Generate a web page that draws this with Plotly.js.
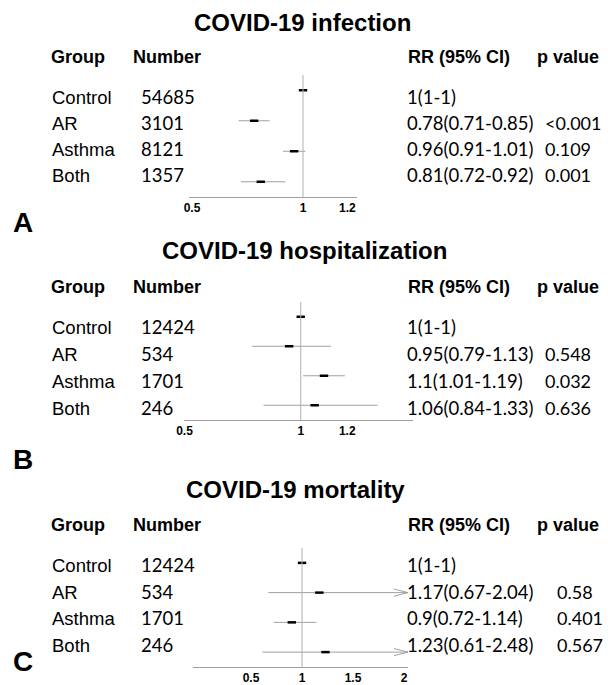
<!DOCTYPE html>
<html><head><meta charset="utf-8">
<script src="https://cdn.plot.ly/plotly-3.0.1.min.js"></script>
<style>html,body{margin:0;padding:0;background:#fff}#chart{width:608px;height:685px}</style>
</head><body><div id="chart"></div>
<script>
// ---------- data ----------
const groups = ['Control', 'AR', 'Asthma', 'Both'];
const titles = ['COVID-19 infection', 'COVID-19 hospitalization', 'COVID-19 mortality'];
const panelLetters = ['A', 'B', 'C'];
const headers = ['Group', 'Number', 'RR (95% CI)', 'p value'];
const refValue = 1;

const infN  = [54685, 3101, 8121, 1357];
const infRR = [1, 0.78, 0.96, 0.81];
const infLo = [1, 0.71, 0.91, 0.72];
const infHi = [1, 0.85, 1.01, 0.92];
const infP  = ['', '<0.001', '0.109', '0.001'];
const infTicks = [0.5, 1, 1.2];

const hospN  = [12424, 534, 1701, 246];
const hospRR = [1, 0.95, 1.1, 1.06];
const hospLo = [1, 0.79, 1.01, 0.84];
const hospHi = [1, 1.13, 1.19, 1.33];
const hospP  = ['', '0.548', '0.032', '0.636'];
const hospTicks = [0.5, 1, 1.2];

const mortN  = [12424, 534, 1701, 246];
const mortRR = [1, 1.17, 0.9, 1.23];
const mortLo = [1, 0.67, 0.72, 0.61];
const mortHi = [1, 2.04, 1.14, 2.48];
const mortP  = ['', '0.58', '0.401', '0.567'];
const mortTicks = [0.5, 1, 1.5, 2];

// ---------- layout geometry (pixels) ----------
const W = 608, H = 685;
const px = v => v / W;
const py = v => 1 - v / H;
const ARIAL = 'Liberation Sans, Arial, sans-serif';
const CALI = 'Lato, Carlito, sans-serif';

const panels = [
  {N: infN, rr: infRR, lo: infLo, hi: infHi, p: infP, ticks: infTicks,
   g: {titleX: 302, titleY: 23, headY: 57, rows: [97, 123, 149, 175], letterY: 222, pX: 544,
       dom: [189, 357], range: [0.4865, 1.2432], yTop: 75, yBot: 197}},
  {N: hospN, rr: hospRR, lo: hospLo, hi: hospHi, p: hospP, ticks: hospTicks,
   g: {titleX: 304, titleY: 251, headY: 287, rows: [327, 354, 381, 408], letterY: 459, pX: 544,
       dom: [184, 413], range: [0.4979, 1.4828], yTop: 302, yBot: 420}},
  {N: mortN, rr: mortRR, lo: mortLo, hi: mortHi, p: mortP, ticks: mortTicks,
   g: {titleX: 295, titleY: 489, headY: 525, rows: [565, 592, 618, 645], letterY: 661, pX: 556,
       dom: [193, 408], range: [-0.0686, 2.039], yTop: 548, yBot: 667}}
];

const data = [];
const annotations = [];
const shapes = [];
const layout = {
  width: W, height: H, margin: {l: 0, r: 0, t: 0, b: 0},
  paper_bgcolor: '#fff', plot_bgcolor: 'rgba(0,0,0,0)', showlegend: false
};

function ann(x, y, text, font, xanchor) {
  annotations.push({xref: 'paper', yref: 'paper', x: px(x), y: py(y), text: text,
    showarrow: false, borderpad: 0, xanchor: xanchor || 'left', yanchor: 'middle', font: font});
}

panels.forEach((P, i) => {
  const k = i + 1;
  const xa = 'x' + k, ya = 'y' + k;
  const rows = groups.map((_, j) => j);
  const g = P.g;

  layout['xaxis' + k] = {
    domain: [px(g.dom[0]), px(g.dom[1])], range: g.range, anchor: ya,
    showgrid: false, zeroline: false, showline: true, linecolor: '#a0a0a0', linewidth: 1,
    ticks: '', tickvals: P.ticks, ticktext: P.ticks.map(String),
    tickfont: {family: ARIAL, size: 12, color: '#000', weight: 'bold'}, fixedrange: true
  };
  layout['yaxis' + k] = {
    domain: [py(g.yBot), py(g.yTop)], range: [groups.length - 0.5, -0.5], anchor: xa,
    visible: false, showgrid: false, zeroline: false, fixedrange: true
  };

  // CI + point estimates
  data.push({
    type: 'scatter', mode: 'markers', x: P.rr, y: rows, xaxis: xa, yaxis: ya,
    marker: {symbol: 'line-ew', size: 6, color: '#000', line: {width: 2.5, color: '#000'}},
    error_x: {type: 'data', symmetric: false,
      array: P.hi.map((h, j) => h - P.rr[j]), arrayminus: P.lo.map((l, j) => P.rr[j] - l),
      color: '#a0a0a0', thickness: 1, width: 0},
    cliponaxis: true, hoverinfo: 'skip'
  });

  // arrowheads for CIs running past the axis end
  const ax = [], ay = [];
  const xmax = g.range[1];
  const dx = (g.range[1] - g.range[0]) * 14 / (g.dom[1] - g.dom[0]);
  P.hi.forEach((h, j) => {
    if (h > xmax) { ax.push(xmax - dx, xmax, xmax - dx, null); ay.push(j - 0.12, j, j + 0.12, null); }
  });
  if (ax.length) {
    data.push({type: 'scatter', mode: 'lines', x: ax, y: ay, xaxis: xa, yaxis: ya,
      line: {color: '#a0a0a0', width: 1}, hoverinfo: 'skip', cliponaxis: false});
  }

  // reference line
  shapes.push({type: 'line', xref: xa, yref: ya + ' domain', x0: refValue, x1: refValue, y0: 0, y1: 1,
    line: {color: '#b0b0b0', width: 1}});

  // texts
  ann(g.titleX, g.titleY, '<b>' + titles[i] + '</b>', {family: ARIAL, size: 24, color: '#000'}, 'center');
  ann(12, g.letterY, '<b>' + panelLetters[i] + '</b>', {family: ARIAL, size: 28, color: '#000'});
  const hf = {family: ARIAL, size: 18, color: '#000'};
  ann(50, g.headY, '<b>' + headers[0] + '</b>', hf);
  ann(132, g.headY, '<b>' + headers[1] + '</b>', hf);
  ann(407, g.headY, '<b>' + headers[2] + '</b>', hf);
  ann(536, g.headY, '<b>' + headers[3] + '</b>', hf);
  groups.forEach((gr, j) => {
    const y = g.rows[j];
    ann(51, y, gr, {family: ARIAL, size: 18.5, color: '#000'});
    ann(140, y, String(P.N[j]), {family: CALI, size: 18.5, color: '#000'});
    ann(406, y, P.rr[j] + '(' + P.lo[j] + '-' + P.hi[j] + ')', {family: CALI, size: 18.5, color: '#000'});
    if (P.p[j]) ann(g.pX, y, P.p[j], {family: CALI, size: 18, color: '#000'});
  });
});

layout.annotations = annotations;
layout.shapes = shapes;

Plotly.newPlot('chart', data, layout, {staticPlot: true, displayModeBar: false});
</script>
</body></html>
